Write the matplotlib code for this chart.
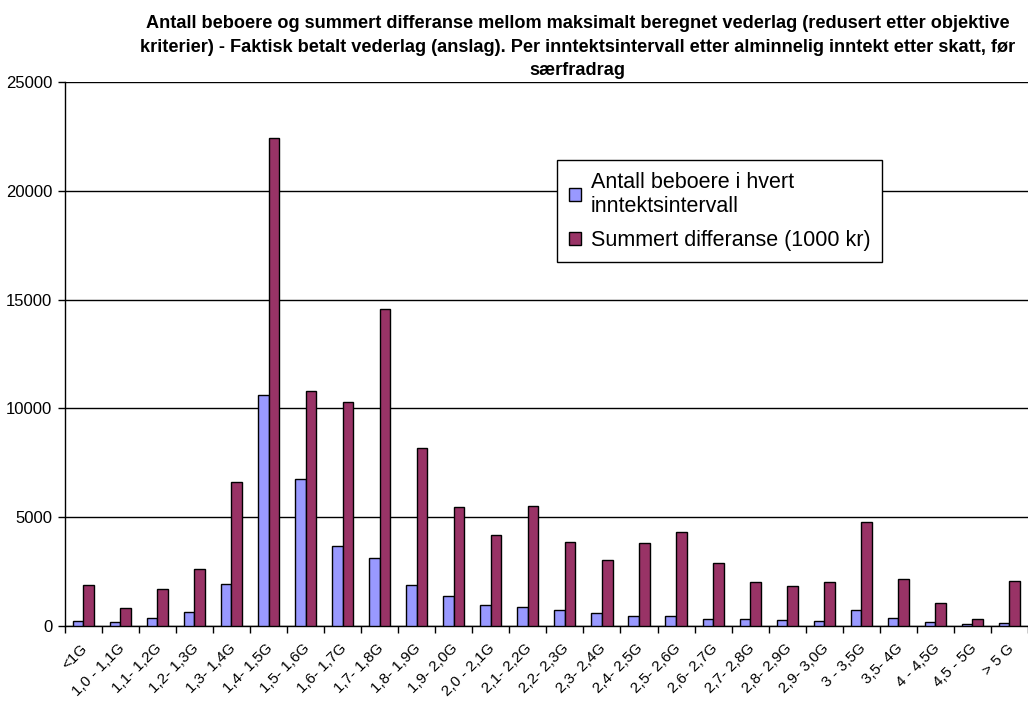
import numpy as np
import matplotlib.pyplot as plt
import matplotlib.transforms as mtransforms
from matplotlib.ticker import FixedLocator, NullFormatter

plt.rcParams['font.family'] = ['Liberation Sans', 'DejaVu Sans']

CATEGORIES = ["<1G", "1,0 - 1,1G", "1,1- 1,2G", "1,2- 1,3G", "1,3- 1,4G",
              "1,4- 1,5G", "1,5- 1,6G", "1,6- 1,7G", "1,7- 1,8G", "1,8- 1,9G",
              "1,9- 2,0G", "2,0 - 2,1G", "2,1- 2,2G", "2,2- 2,3G", "2,3- 2,4G",
              "2,4- 2,5G", "2,5- 2,6G", "2,6- 2,7G", "2,7- 2,8G", "2,8- 2,9G",
              "2,9- 3,0G", "3 - 3,5G", "3,5- 4G", "4 - 4,5G", "4,5 - 5G", "> 5 G"]

ANTALL = [214, 168, 383, 658, 1945, 10630, 6770, 3660, 3110, 1900,
          1395, 965, 887, 719, 581, 474, 443, 336, 306, 275,
          229, 749, 382, 168, 92, 138]

DIFFERANSE = [1900, 830, 1685, 2605, 6630, 22420, 10810, 10290, 14560, 8195,
              5470, 4165, 5535, 3870, 3010, 3825, 4325, 2890, 2020, 1850,
              2005, 4785, 2140, 1040, 306, 2080]

LEGEND = ["Antall beboere i hvert\ninntektsintervall", "Summert differanse (1000 kr)"]
TITLE = ("Antall beboere og summert differanse mellom maksimalt beregnet vederlag (redusert etter objektive\n"
         "kriterier) - Faktisk betalt vederlag (anslag). Per inntektsintervall etter alminnelig inntekt etter skatt, før\n"
         "særfradrag")

fig = plt.figure(figsize=(10.28, 7.01), dpi=100)
ax = fig.add_axes([0.063, 0.107, 0.937, 0.776])

x = np.arange(len(CATEGORIES))
w = 0.2857
ax.bar(x - w / 2, ANTALL, width=w, color="#9999FF", edgecolor="black",
       linewidth=1, label=LEGEND[0], zorder=3)
ax.bar(x + w / 2, DIFFERANSE, width=w, color="#993366", edgecolor="black",
       linewidth=1, label=LEGEND[1], zorder=3)

ax.set_xlim(-0.5, len(CATEGORIES) - 0.5)
ax.set_ylim(0, 25000)
ax.set_yticks(np.arange(0, 25001, 5000))
ax.tick_params(axis="y", labelsize=12, direction="out", length=5, width=1, pad=4)
ax.yaxis.grid(True, color="black", linewidth=1, zorder=0)

ax.xaxis.set_major_locator(FixedLocator(np.arange(-0.5, len(CATEGORIES), 1.0)))
ax.xaxis.set_major_formatter(NullFormatter())
ax.xaxis.set_minor_locator(FixedLocator(x))
ax.set_xticklabels(CATEGORIES, minor=True, rotation=45, ha="right",
                   rotation_mode="anchor", fontsize=11)
ax.tick_params(axis="x", which="major", direction="out", length=5, width=1)
ax.tick_params(axis="x", which="minor", length=0, pad=11)
shift = mtransforms.ScaledTranslation(-3 / 100, 0, fig.dpi_scale_trans)
for lab in ax.get_xticklabels(minor=True):
    lab.set_transform(lab.get_transform() + shift)

for s in ["top", "right"]:
    ax.spines[s].set_visible(False)
ax.spines["left"].set_linewidth(1)
ax.spines["bottom"].set_linewidth(1)
ax.set_axisbelow(True)

leg = ax.legend(loc="upper left", bbox_to_anchor=(0.5, 0.877), fontsize=15.5,
                frameon=True, fancybox=False, edgecolor="black", framealpha=1,
                handlelength=0.55, handleheight=0.55, handletextpad=0.45,
                borderpad=0.55, labelspacing=0.6)
leg.get_frame().set_linewidth(1)

fig.text(0.562, 0.978, TITLE, ha="center", va="top", fontsize=13.1,
         fontweight="bold", linespacing=1.5)

fig.savefig("out.png", dpi=100)
